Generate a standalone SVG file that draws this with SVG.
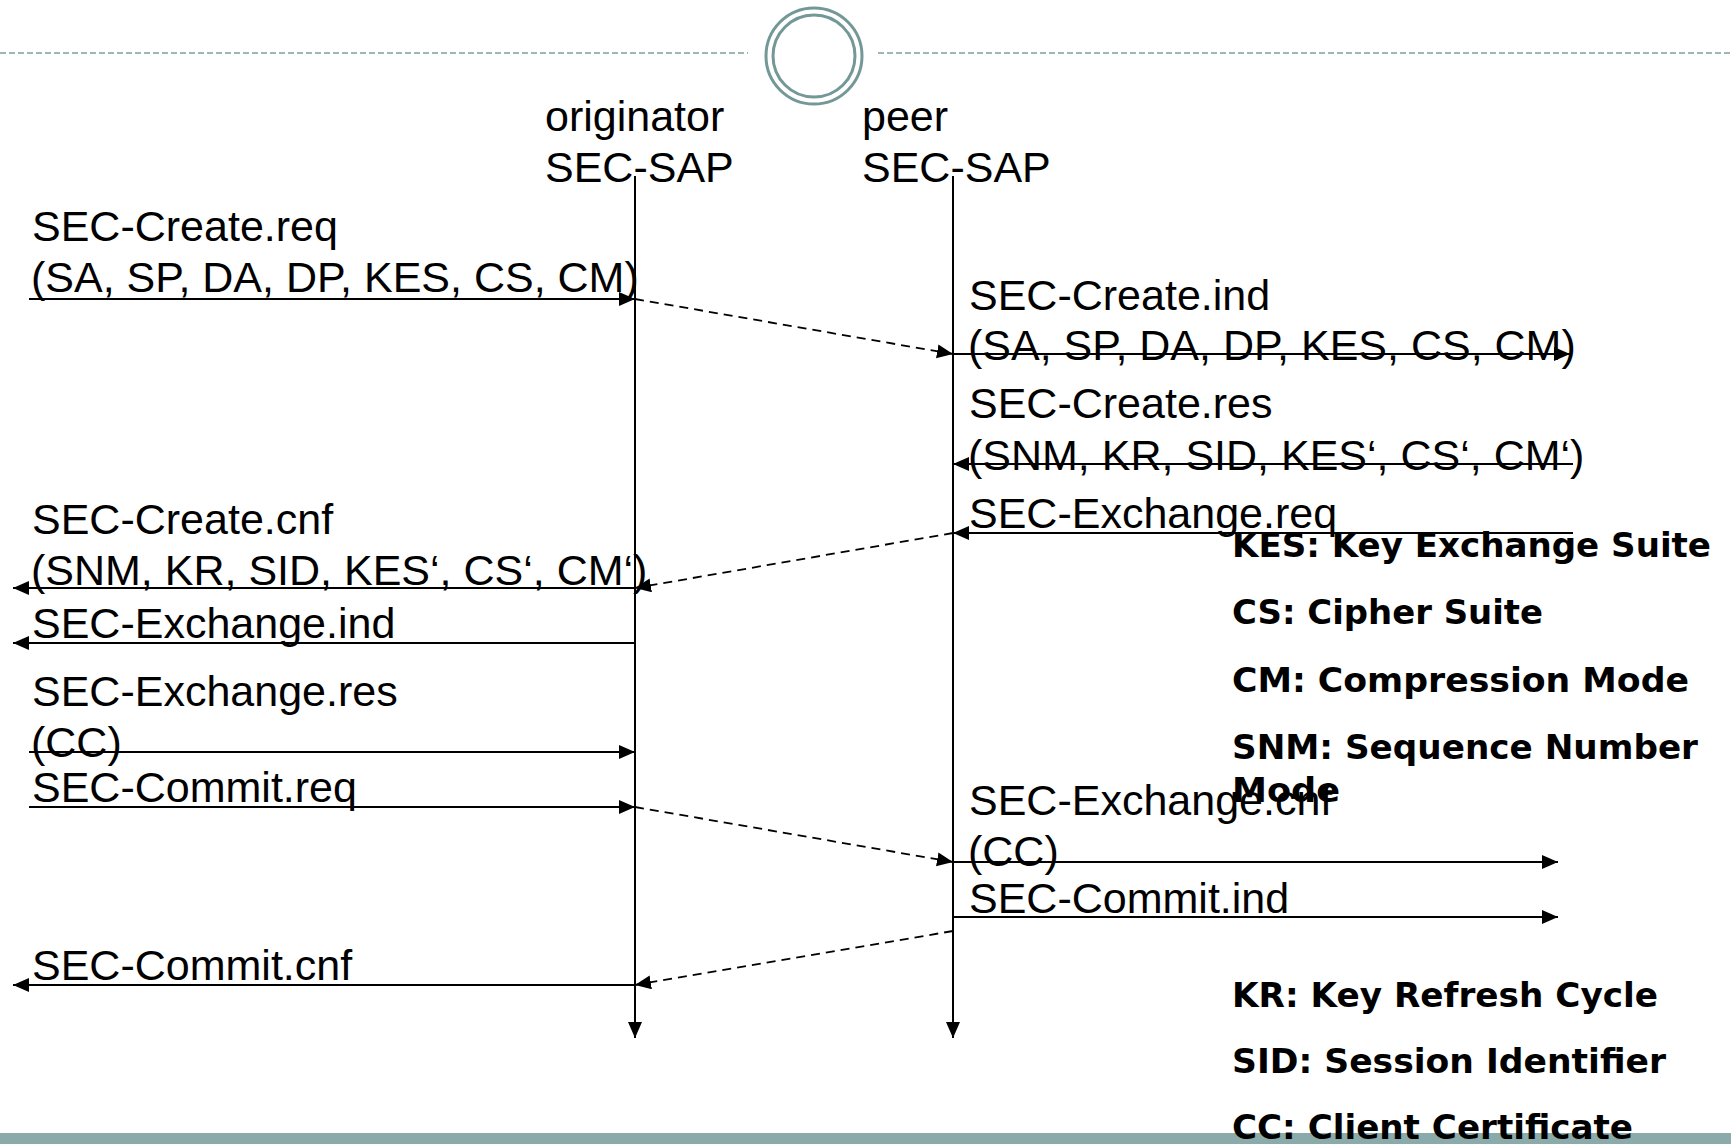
<svg xmlns="http://www.w3.org/2000/svg" width="1731" height="1144" viewBox="0 0 1731 1144">
  <style>
    .lbl { font-family: "Liberation Sans", Arial, sans-serif; font-size: 43px; fill: #000; }
    .key { font-family: "DejaVu Sans", Verdana, sans-serif; font-weight: bold; font-size: 33.5px; fill: #000; }
    .life { stroke: #000; stroke-width: 2; fill: none; }
    .msg { stroke: #000; stroke-width: 2; fill: none; }
    .relay { stroke: #000; stroke-width: 1.8; fill: none; stroke-dasharray: 9 6; }
    .rule { stroke: #7f9f9e; stroke-width: 1.5; stroke-dasharray: 6 3; fill: none; }
    .ring { stroke: #739897; stroke-width: 3; fill: none; }
  </style>
  <defs>
    <marker id="head" markerUnits="userSpaceOnUse" markerWidth="17" markerHeight="15" refX="16" refY="7" orient="auto">
      <path d="M0,0 L16,7 L0,14 z" fill="#000"/>
    </marker>
  </defs>

  <rect width="1731" height="1144" fill="#fff"/>

  <!-- header rule with ring ornament -->
  <g id="header">
    <line class="rule" x1="0" y1="53" x2="748" y2="53"/>
    <line class="rule" x1="878" y1="53" x2="1731" y2="53"/>
    <circle class="ring" cx="814" cy="56" r="48" fill="#fff"/>
    <circle class="ring" cx="814" cy="56" r="41"/>
  </g>

  <!-- footer band -->
  <rect id="footer" x="0" y="1133" width="1731" height="11" fill="#8aaba9"/>

  <!-- service access points -->
  <g id="originator">
    <text class="lbl" x="545" y="131">originator</text>
    <text class="lbl" x="545" y="182">SEC-SAP</text>
    <line class="life" x1="635" y1="176" x2="635" y2="1038" marker-end="url(#head)"/>
  </g>
  <g id="peer">
    <text class="lbl" x="862" y="131">peer</text>
    <text class="lbl" x="862" y="182">SEC-SAP</text>
    <line class="life" x1="953" y1="176" x2="953" y2="1038" marker-end="url(#head)"/>
  </g>

  <!-- primitives -->
  <g id="connectors">
    <path class="msg" d="M29,299 H635" marker-end="url(#head)"/>
    <path class="relay" d="M635,299 L953,354" marker-end="url(#head)"/>
    <path class="msg" d="M953,354 H1570" marker-end="url(#head)"/>
    <path class="msg" d="M1573,464 H953" marker-end="url(#head)"/>
    <path class="msg" d="M1573,533 H953" marker-end="url(#head)"/>
    <path class="relay" d="M953,533 L635,588" marker-end="url(#head)"/>
    <path class="msg" d="M635,588 H13" marker-end="url(#head)"/>
    <path class="msg" d="M635,643 H13" marker-end="url(#head)"/>
    <path class="msg" d="M29,752 H635" marker-end="url(#head)"/>
    <path class="msg" d="M29,807 H635" marker-end="url(#head)"/>
    <path class="relay" d="M635,807 L953,862" marker-end="url(#head)"/>
    <path class="msg" d="M953,862 H1558" marker-end="url(#head)"/>
    <path class="msg" d="M953,917 H1558" marker-end="url(#head)"/>
    <path class="relay" d="M953,931 L635,985" marker-end="url(#head)"/>
    <path class="msg" d="M635,985 H13" marker-end="url(#head)"/>
  </g>

  <!-- originator side labels -->
  <g id="create-req">
    <text class="lbl" x="32" y="241">SEC-Create.req</text>
    <text class="lbl" x="31" y="292">(SA, SP, DA, DP, KES, CS, CM)</text>
  </g>
  <g id="create-cnf">
    <text class="lbl" x="32" y="534">SEC-Create.cnf</text>
    <text class="lbl" x="31" y="585">(SNM, KR, SID, KES‘, CS‘, CM‘)</text>
  </g>
  <g id="exchange-ind">
    <text class="lbl" x="32" y="638">SEC-Exchange.ind</text>
  </g>
  <g id="exchange-res">
    <text class="lbl" x="32" y="706">SEC-Exchange.res</text>
    <text class="lbl" x="31" y="757">(CC)</text>
  </g>
  <g id="commit-req">
    <text class="lbl" x="32" y="802">SEC-Commit.req</text>
  </g>
  <g id="commit-cnf">
    <text class="lbl" x="32" y="980">SEC-Commit.cnf</text>
  </g>

  <!-- peer side labels -->
  <g id="create-ind">
    <text class="lbl" x="969" y="310">SEC-Create.ind</text>
    <text class="lbl" x="968" y="360">(SA, SP, DA, DP, KES, CS, CM)</text>
  </g>
  <g id="create-res">
    <text class="lbl" x="969" y="418">SEC-Create.res</text>
    <text class="lbl" x="968" y="470">(SNM, KR, SID, KES‘, CS‘, CM‘)</text>
  </g>
  <g id="exchange-req">
    <text class="lbl" x="969" y="528">SEC-Exchange.req</text>
  </g>
  <g id="exchange-cnf">
    <text class="lbl" x="969" y="815">SEC-Exchange.cnf</text>
    <text class="lbl" x="968" y="866">(CC)</text>
  </g>
  <g id="commit-ind">
    <text class="lbl" x="969" y="913">SEC-Commit.ind</text>
  </g>

  <!-- abbreviations -->
  <g id="legend">
    <text class="key" x="1232" y="557" textLength="479" lengthAdjust="spacingAndGlyphs">KES: Key Exchange Suite</text>
    <text class="key" x="1232" y="624" textLength="311" lengthAdjust="spacingAndGlyphs">CS: Cipher Suite</text>
    <text class="key" x="1232" y="692" textLength="457" lengthAdjust="spacingAndGlyphs">CM: Compression Mode</text>
    <text class="key" x="1232" y="759" textLength="466" lengthAdjust="spacingAndGlyphs">SNM: Sequence Number</text>
    <text class="key" x="1232" y="802" textLength="108" lengthAdjust="spacingAndGlyphs">Mode</text>
    <text class="key" x="1232" y="1007" textLength="426" lengthAdjust="spacingAndGlyphs">KR: Key Refresh Cycle</text>
    <text class="key" x="1232" y="1073" textLength="434" lengthAdjust="spacingAndGlyphs">SID: Session Identifier</text>
    <text class="key" x="1232" y="1139" textLength="401" lengthAdjust="spacingAndGlyphs">CC: Client Certificate</text>
  </g>
</svg>
